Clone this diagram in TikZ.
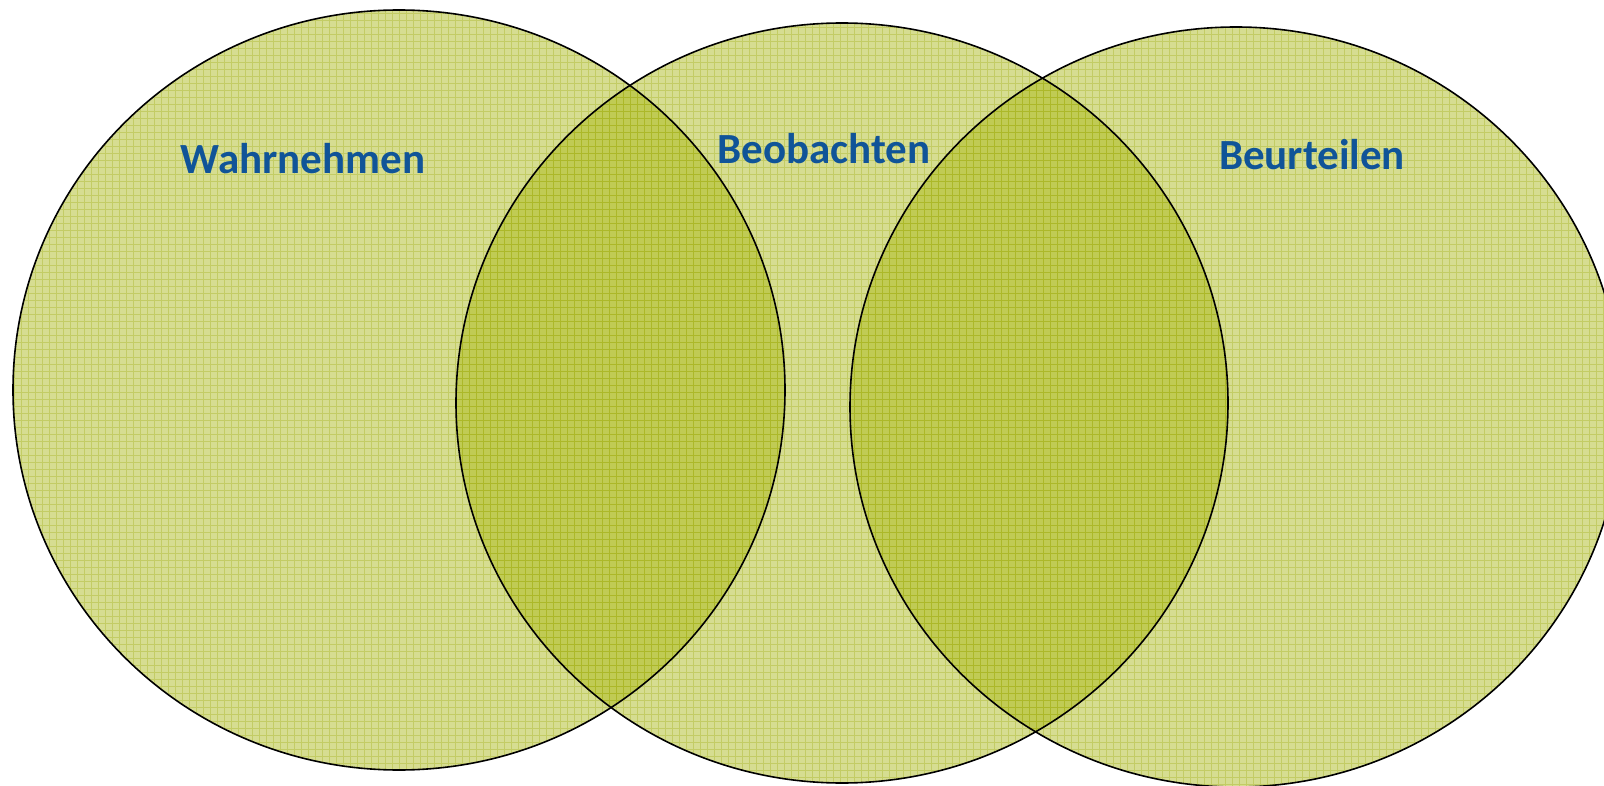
\documentclass[tikz,border=0pt]{standalone}
\usepackage{fontspec}
\setmainfont{Carlito}
\definecolor{olivefill}{RGB}{165,180,10}
\definecolor{gridcol}{RGB}{150,165,0}
\definecolor{labelblue}{RGB}{16,84,152}
\tikzset{
  venncircle/.style={fill=olivefill, fill opacity=0.45},
  gridline/.style={draw=gridcol, line width=1pt, opacity=0.3},
  vennoutline/.style={draw=black, line width=1.6pt},
  vennlabel/.style={text=labelblue, font=\fontsize{43}{50}\selectfont\bfseries, anchor=base, inner sep=0pt}
}
\begin{document}
\begin{tikzpicture}[x=1pt,y=-1pt]
\useasboundingbox (0,0) rectangle (1604,786);
% circle centres
\coordinate (cA) at (399,390);
\coordinate (cB) at (842,403);
\coordinate (cC) at (1236,407);
% fills with grid texture
\foreach \c in {cA,cB,cC}{
  \begin{scope}
    \clip (\c) ellipse [x radius=386pt, y radius=380pt];
    \fill[venncircle] (0,0) rectangle (1604,786);
    \draw[gridline] (0,0) grid[step=7pt] (1604,786);
  \end{scope}
}
% outlines
\draw[vennoutline] (cA) ellipse [x radius=386pt, y radius=380pt];
\draw[vennoutline] (cB) ellipse [x radius=386pt, y radius=380pt];
\draw[vennoutline] (cC) ellipse [x radius=386pt, y radius=380pt];
% labels
\node[vennlabel] (wahr) at (303,174) {Wahrnehmen};
\node[vennlabel] (beob) at (824,164) {Beobachten};
\node[vennlabel] (beur) at (1312,170) {Beurteilen};
\end{tikzpicture}
\end{document}
